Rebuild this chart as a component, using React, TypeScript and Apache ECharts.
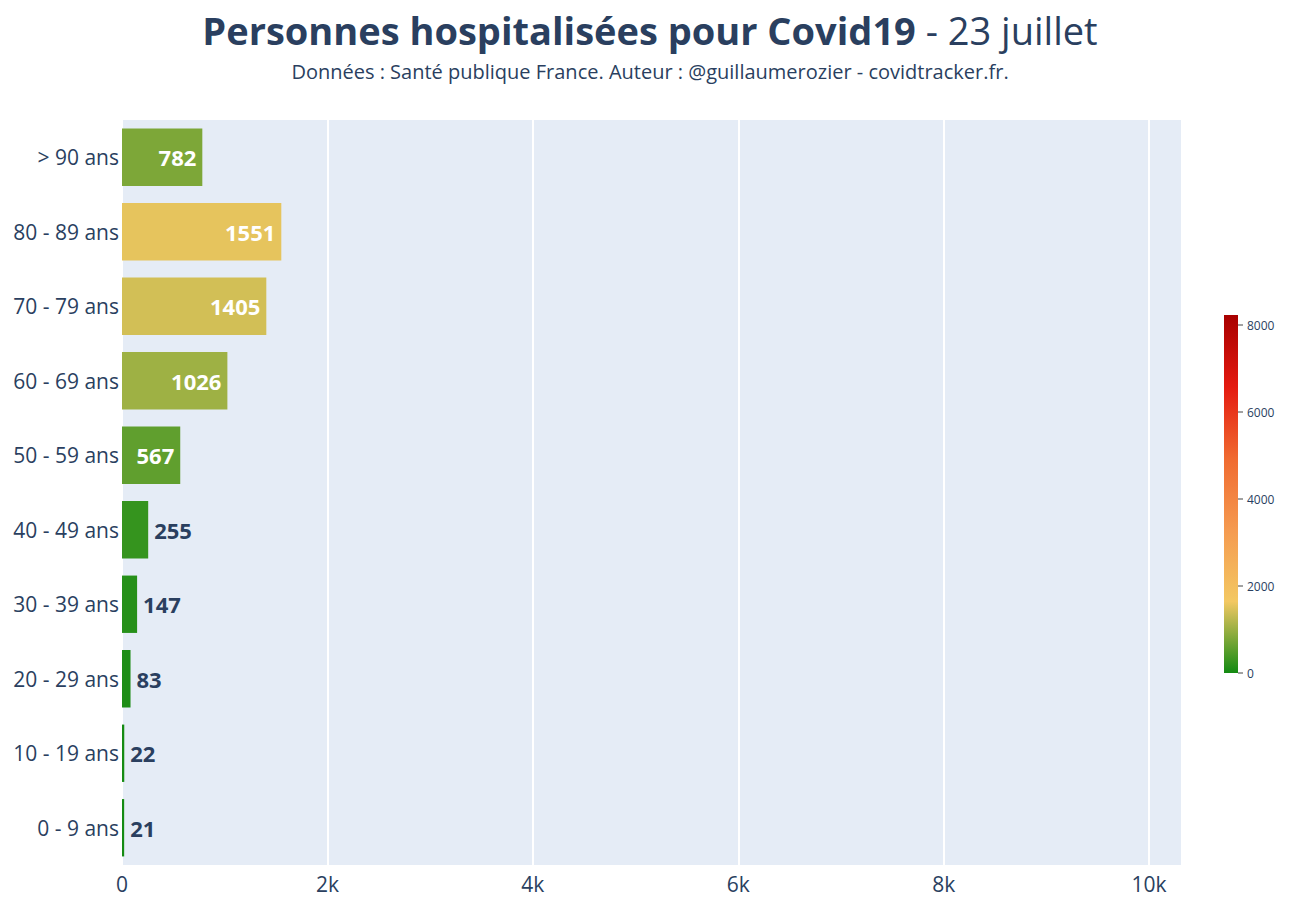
import React, { useEffect, useRef } from 'react';
import * as echarts from 'echarts';

const categories = ['0 - 9 ans', '10 - 19 ans', '20 - 29 ans', '30 - 39 ans', '40 - 49 ans', '50 - 59 ans', '60 - 69 ans', '70 - 79 ans', '80 - 89 ans', '> 90 ans'];
const values = [21, 22, 83, 147, 255, 567, 1026, 1405, 1551, 782];
const colorStops = ['#128a12', '#f3c862', '#f59a50', '#f06a30', '#e41a10', '#a80000'];
const colorMax = 8230;
const colorTicks = [0, 2000, 4000, 6000, 8000];

const TEXT = '#2a3f5f';
const FONT = '"Open Sans", sans-serif';

const App: React.FC = () => {
  const chartRef = useRef<HTMLDivElement | null>(null);

  useEffect(() => {
    const chart = echarts.init(chartRef.current!, undefined, { renderer: 'svg' });

    // colorbar at the right, drawn as a gradient rect with tick labels
    const barTop = 315;
    const barBottom = 673;
    const barH = barBottom - barTop;
    const colorbar: any[] = [
      {
        type: 'rect',
        shape: { x: 1224, y: barTop, width: 14, height: barH },
        style: {
          fill: new echarts.graphic.LinearGradient(0, 1, 0, 0,
            colorStops.map((c, i) => ({ offset: i / (colorStops.length - 1), color: c }))),
        },
      },
    ];
    colorTicks.forEach((t) => {
      const y = barBottom - (t / colorMax) * barH;
      colorbar.push({ type: 'line', shape: { x1: 1238, y1: y, x2: 1243, y2: y }, style: { stroke: '#444', lineWidth: 1 } });
      colorbar.push({
        type: 'text', x: 1247, y, style: { text: String(t), fill: TEXT, font: `12px ${FONT}`, textVerticalAlign: 'middle' },
      });
    });

    chart.setOption({
      animation: false,
      textStyle: { fontFamily: FONT },
      title: {
        text: '{b|Personnes hospitalisées pour Covid19}{n| - 23 juillet}',
        subtext: 'Données : Santé publique France. Auteur : @guillaumerozier - covidtracker.fr.',
        left: 'center',
        top: 6,
        itemGap: 12,
        textStyle: {
          rich: {
            b: { fontSize: 38, fontWeight: 'bold', color: TEXT, fontFamily: FONT },
            n: { fontSize: 38, fontWeight: 'normal', color: TEXT, fontFamily: FONT },
          },
        },
        subtextStyle: { fontSize: 20, color: TEXT, fontFamily: FONT },
      },
      visualMap: {
        show: false,
        type: 'continuous',
        min: 0,
        max: colorMax,
        dimension: 0,
        seriesIndex: 0,
        inRange: { color: colorStops },
      },
      grid: {
        left: 122, right: 118, top: 120, bottom: 35,
        show: true, backgroundColor: '#e5ecf6', borderWidth: 0,
      },
      xAxis: {
        type: 'value',
        min: 0,
        max: 10320,
        interval: 2000,
        axisLine: { show: false },
        axisTick: { show: false },
        splitLine: { lineStyle: { color: '#ffffff', width: 2 } },
        axisLabel: {
          showMaxLabel: false,
          fontSize: 21, color: TEXT, fontFamily: FONT, margin: 8,
          formatter: (v: number) => (v === 0 ? '0' : `${v / 1000}k`),
        },
      },
      yAxis: {
        type: 'category',
        data: categories,
        axisLine: { show: false },
        axisTick: { show: false },
        axisLabel: { fontSize: 21, color: TEXT, fontFamily: FONT, margin: 3 },
      },
      series: [
        {
          type: 'bar',
          barCategoryGap: '23%',
          data: values.map((v) => ({
            value: v,
            label: v >= 500
              ? { show: true, position: 'insideRight', color: '#ffffff', distance: 6 }
              : { show: true, position: 'right', color: TEXT, distance: 6 },
          })),
          label: { fontSize: 22, fontWeight: 'bold', fontFamily: FONT },
        },
      ],
      graphic: colorbar,
    });

    return () => {
      chart.dispose();
    };
  }, []);

  return (
    <div
      ref={chartRef}
      style={{ position: 'absolute', left: 0, top: 0, width: '1300px', height: '900px', background: '#fff' }}
    />
  );
};

export default App;
